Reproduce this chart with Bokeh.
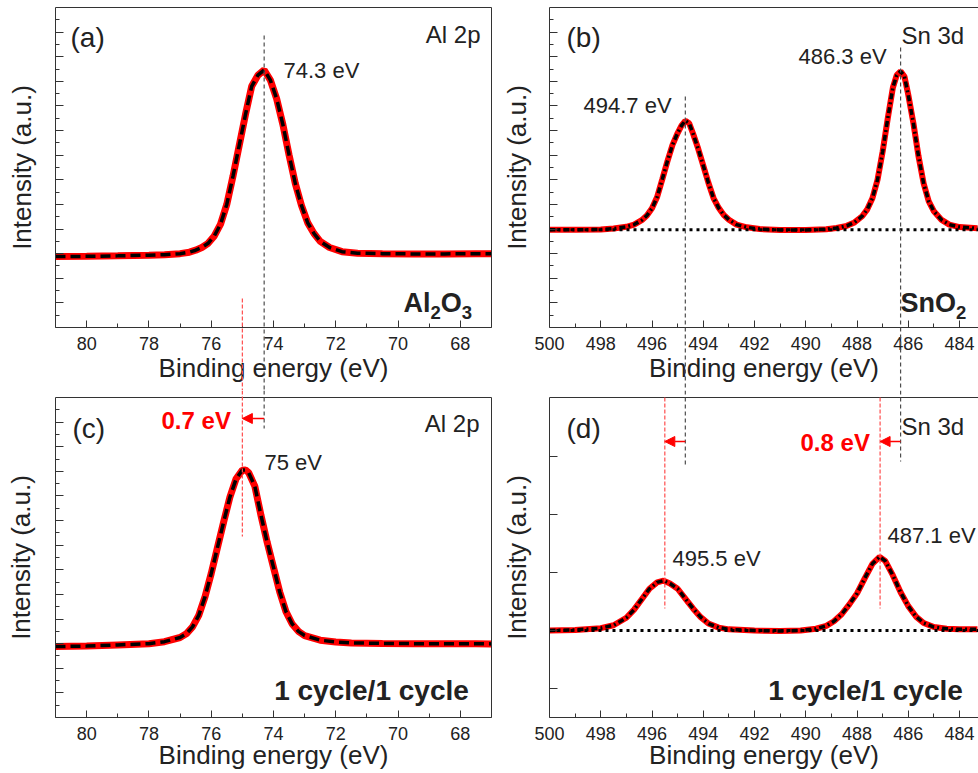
import math
from bokeh.plotting import figure
from bokeh.layouts import column, row
from bokeh.models import Range1d, FixedTicker, Label, Arrow, NormalHead, LinearAxis
from bokeh.embed import file_html
from bokeh.resources import INLINE

FONT = "Liberation Sans"
TXT = "#222222"

# ---------------- data ----------------
# (a) Al 2p, Al2O3
al2o3_E = [81, 80, 79, 78, 77.5, 77, 76.7, 76.5, 76.3, 76.1, 75.9, 75.7, 75.5, 75.3, 75.1,
           74.9, 74.7, 74.5, 74.3, 74.1, 73.9, 73.7, 73.5, 73.3, 73.1, 72.9, 72.7, 72.5,
           72.2, 71.8, 71.3, 70.5, 69.5, 68.5, 67.5, 67]
al2o3_I = [2.88, 2.89, 2.91, 2.94, 2.96, 3.0, 3.06, 3.14, 3.25, 3.42, 3.72, 4.2, 5.0, 6.15, 7.4,
           8.65, 9.8, 10.25, 10.46, 10.05, 9.3, 8.25, 7.01, 5.85, 4.95, 4.25, 3.82, 3.5,
           3.25, 3.08, 3.02, 3.0, 2.99, 2.99, 3.0, 3.0]

# (c) Al 2p, 1 cycle/1 cycle
cyc_al_E = [81, 80, 79, 78, 77.5, 77.0, 76.8, 76.6, 76.4, 76.2, 76.0, 75.8, 75.6, 75.4, 75.2,
            75.0, 74.9, 74.8, 74.6, 74.4, 74.2, 74.0, 73.8, 73.6, 73.4, 73.2, 73.0, 72.5,
            72.0, 71.5, 70.5, 69.5, 68.5, 67.5, 67]
cyc_al_I = [2.88, 2.9, 2.95, 3.0, 3.08, 3.25, 3.4, 3.68, 4.15, 4.9, 5.85, 6.9, 7.95, 8.95, 9.7,
            10.05, 10.06, 9.95, 9.4, 8.2, 7.1, 6.1, 5.1, 4.3, 3.8, 3.5, 3.33, 3.14,
            3.07, 3.03, 3.01, 3.0, 3.0, 3.0, 2.99]

# (b) Sn 3d, SnO2
sno2_E = [500, 499, 498, 497.5, 497, 496.7, 496.4, 496.2, 496.0, 495.8, 495.6, 495.4, 495.2,
          495.0, 494.85, 494.7, 494.55, 494.4, 494.2, 494.0, 493.8, 493.6, 493.4, 493.2,
          493.0, 492.7, 492.3, 491.8, 491, 490, 489.2, 488.8, 488.4, 488.1, 487.8, 487.6,
          487.4, 487.2, 487.0, 486.8, 486.6, 486.45, 486.3, 486.15, 486.0, 485.8, 485.6,
          485.4, 485.2, 485.0, 484.7, 484.4, 484.0, 483.3]
sno2_I = [3.97, 3.97, 3.98, 4.02, 4.09, 4.18, 4.36, 4.55, 4.84, 5.3, 6.02, 6.75, 7.42,
          7.9, 8.2, 8.4, 8.3, 7.88, 7.27, 6.58, 5.88, 5.26, 4.86, 4.57,
          4.38, 4.18, 4.07, 4.0, 3.96, 3.96, 3.99, 4.04, 4.13, 4.27, 4.52, 4.8,
          5.25, 6.0, 7.15, 8.5, 9.75, 10.25, 10.41, 10.2, 9.45, 8.3, 6.95,
          5.85, 5.12, 4.72, 4.37, 4.18, 4.08, 4.03]
sno2_base = 3.97

# (d) Sn 3d, 1 cycle/1 cycle
cyc_sn_E = [500, 499, 498, 497.5, 497.0, 496.7, 496.4, 496.1, 495.8, 495.55, 495.3, 495.0,
            494.7, 494.4, 494.1, 493.8, 493.4, 493.0, 492.0, 491.0, 490.2, 489.6, 489.2,
            488.9, 488.6, 488.3, 488.0, 487.7, 487.4, 487.12, 486.9, 486.6, 486.3, 486.0,
            485.7, 485.4, 485.0, 484.5, 484.0, 483.3]
cyc_sn_I = [2.0, 2.01, 2.04, 2.09, 2.22, 2.36, 2.54, 2.72, 2.83, 2.86, 2.81, 2.72,
            2.55, 2.38, 2.23, 2.12, 2.05, 2.02, 2.0, 1.99, 2.0, 2.03, 2.08,
            2.16, 2.28, 2.45, 2.64, 2.9, 3.15, 3.27, 3.2, 2.95, 2.66, 2.42,
            2.24, 2.13, 2.06, 2.03, 2.02, 2.02]
cyc_sn_base = 2.0

peak_al2o3 = 74.3
peak_cyc_al = 75.0
peaks_sno2 = [494.7, 486.3]
peaks_cyc_sn = [495.5, 487.1]

al_xticks = [80, 78, 76, 74, 72, 70, 68]
al_xminor = [81, 79, 77, 75, 73, 71, 69, 67]
sn_xticks = [500, 498, 496, 494, 492, 490, 488, 486, 484]
sn_xminor = [499, 497, 495, 493, 491, 489, 487, 485]
y_major = [1, 2, 3, 4, 5, 6, 7, 8, 9, 10, 11, 12]
y_minor = [0.5, 1.5, 2.5, 3.5, 4.5, 5.5, 6.5, 7.5, 8.5, 9.5, 10.5, 11.5, 12.5]
yd_major = [1, 2, 3, 4, 5]

X_TITLE = "Binding energy (eV)"
Y_TITLE = "Intensity (a.u.)"

# ---------------- geometry (page pixels) ----------------
# ox/oy: canvas origin on the page; left/top/fw/fh: axes box inside canvas
G = {
    "a": dict(ox=0, oy=0, w=500, h=390, left=55, top=7, fw=436, fh=320, xr=(81, 67), yr=(0, 13),
              xtitle_y=367, ytitle_x=21),
    "b": dict(ox=500, oy=0, w=478, h=390, left=49, top=7, fw=429, fh=320, xr=(500, 483.26), yr=(0, 13),
              xtitle_y=367, ytitle_x=516),
    "c": dict(ox=0, oy=390, w=500, h=383, left=55, top=7, fw=436, fh=320, xr=(81, 67), yr=(0, 13),
              xtitle_y=754, ytitle_x=20),
    "d": dict(ox=500, oy=390, w=478, h=383, left=49, top=7, fw=429, fh=320, xr=(500, 483.26),
              yr=(0.5, 0.5 + 320 / 58.0), xtitle_y=754, ytitle_x=516),
}


def to_data(g, X, Y):
    cx = X - g["ox"] - g["left"]
    cy = Y - g["oy"] - g["top"]
    x0, x1 = g["xr"]
    y0, y1 = g["yr"]
    return x0 + cx / g["fw"] * (x1 - x0), y1 - cy / g["fh"] * (y1 - y0)


def full_ranges(g):
    xa, yb = to_data(g, g["ox"], g["oy"] + g["h"])
    xb, ya = to_data(g, g["ox"] + g["w"], g["oy"])
    return (xa, xb), (yb, ya)


def style_axis(ax, tick_in, minor_in):
    ax.axis_line_color = "#333333"
    ax.axis_line_width = 1
    ax.major_tick_line_color = "#333333"
    ax.minor_tick_line_color = "#333333"
    ax.major_tick_in = tick_in
    ax.major_tick_out = 0
    ax.minor_tick_in = minor_in
    ax.minor_tick_out = 0


def text(p, g, X, Y, s, size, bold=False, color=TXT, align="left", angle=0.0):
    """Y is the vertical centre of the capitals (page pixels)."""
    x, y = to_data(g, X, Y)
    p.add_layout(Label(x=x, y=y, text=s, text_font=FONT, text_font_size=f"{size}px",
                       text_font_style="bold" if bold else "normal", text_color=color,
                       text_align=align, text_baseline="middle", angle=angle))


BOLD_W = {"A": 0.722, "l": 0.278, "O": 0.778, "S": 0.667, "n": 0.611, "2": 0.556, "3": 0.556}


def chem(p, g, X, Y, parts, size=27, sub_size=18.5):
    x = X
    for s, sub in parts:
        fs = sub_size if sub else size
        text(p, g, x, Y + (9 if sub else 0), s, fs, bold=True)
        x += sum(BOLD_W[c] for c in s) * fs


def make_fig(g, xt, xm, yt, ym, box_right=True):
    xr, yr = full_ranges(g)
    p = figure(width=g["w"], height=g["h"], x_range=Range1d(*xr), y_range=Range1d(*yr),
               output_backend="svg", toolbar_location=None,
               x_axis_location=None, y_axis_location=None, min_border=0,
               background_fill_color="white", border_fill_color="white")
    p.grid.visible = False
    p.outline_line_color = None
    bx = (min(g["xr"]), max(g["xr"]))
    by = (min(g["yr"]), max(g["yr"]))

    xa = LinearAxis(fixed_location=g["yr"][0], bounds=bx, ticker=FixedTicker(ticks=xt, minor_ticks=xm))
    style_axis(xa, 7, 4)
    xa.major_label_text_font = FONT
    xa.major_label_text_font_size = "18px"
    xa.major_label_text_color = TXT
    xa.major_label_standoff = 9
    p.add_layout(xa, "below")

    ya = LinearAxis(fixed_location=g["xr"][0], bounds=by, ticker=FixedTicker(ticks=yt, minor_ticks=ym))
    style_axis(ya, 8, 4)
    ya.major_label_text_color = None
    p.add_layout(ya, "left")

    top = LinearAxis(fixed_location=g["yr"][1], bounds=bx, ticker=FixedTicker(ticks=[]))
    style_axis(top, 0, 0)
    top.major_label_text_color = None
    p.add_layout(top, "above")
    if box_right:
        rt = LinearAxis(fixed_location=g["xr"][1], bounds=by, ticker=FixedTicker(ticks=[]))
        style_axis(rt, 0, 0)
        rt.major_label_text_color = None
        p.add_layout(rt, "right")

    # axis titles
    cx = g["ox"] + g["left"] + g["fw"] / 2
    text(p, g, cx, g["xtitle_y"], X_TITLE, 26, align="center")
    cy = g["oy"] + g["top"] + g["fh"] / 2
    text(p, g, g["ytitle_x"], cy, Y_TITLE, 26, align="center", angle=math.pi / 2)
    return p


def vguide(p, g, E, Y0, Y1, color, dash):
    _, ya = to_data(g, 0, Y0)
    _, yb = to_data(g, 0, Y1)
    p.add_layout(Arrow(end=None, x_start=E, y_start=ya, x_end=E, y_end=yb,
                       line_color=color, line_width=1.2, line_dash=dash))


def shift_arrow(p, g, E_from, E_to, Y):
    _, y = to_data(g, 0, Y)
    p.add_layout(Arrow(x_start=E_from, y_start=y, x_end=E_to, y_end=y,
                       line_color="#ff0000", line_width=1.5,
                       end=NormalHead(size=10, fill_color="#ff0000", line_color="#ff0000")))


def baseline(p, g, level):
    p.line(x=list(g["xr"]), y=[level, level], line_color="#000000", line_width=3, line_dash="3 4")


GRAY = "#4d4d4d"
RED_GUIDE = "#ff4d4d"

# ---------------- (a) ----------------
ga = G["a"]
pa = make_fig(ga, al_xticks, al_xminor, y_major, y_minor)
pa.line(al2o3_E, al2o3_I, line_color="#ff0000", line_width=7)
pa.line(al2o3_E, al2o3_I, line_color="#000000", line_width=3.5, line_dash="10 5")
vguide(pa, ga, peak_al2o3, 35, 390, GRAY, "4 3")
vguide(pa, ga, peak_cyc_al, 298, 390, RED_GUIDE, "4 2")
text(pa, ga, 70, 37, "(a)", 28)
text(pa, ga, 480, 33.5, "Al 2p", 24, align="right")
text(pa, ga, 283, 70, f"{peak_al2o3} eV", 22)
chem(pa, ga, 403, 302.5, [("Al", False), ("2", True), ("O", False), ("3", True)])

# ---------------- (b) ----------------
gb = G["b"]
pb = make_fig(gb, sn_xticks, sn_xminor, y_major, y_minor, box_right=False)
pb.line(sno2_E, sno2_I, line_color="#ff0000", line_width=6)
pb.line(sno2_E, sno2_I, line_color="#000000", line_width=3.5, line_dash="6 3 2 3")
baseline(pb, gb, sno2_base)
vguide(pb, gb, peaks_sno2[0], 96, 390, GRAY, "4 3")
vguide(pb, gb, peaks_sno2[1], 47, 390, GRAY, "4 3")
text(pb, gb, 566, 37, "(b)", 28)
text(pb, gb, 901, 34.5, "Sn 3d", 24)
text(pb, gb, 583, 105, f"{peaks_sno2[0]} eV", 22)
text(pb, gb, 798, 56, f"{peaks_sno2[1]} eV", 22)
chem(pb, gb, 900, 302.5, [("Sn", False), ("O", False), ("2", True)])

# ---------------- (c) ----------------
gc = G["c"]
pc = make_fig(gc, al_xticks, al_xminor, y_major, y_minor)
pc.line(cyc_al_E, cyc_al_I, line_color="#ff0000", line_width=7)
pc.line(cyc_al_E, cyc_al_I, line_color="#000000", line_width=3.5, line_dash="10 5")
vguide(pc, gc, peak_al2o3, 390, 428, GRAY, "4 3")
vguide(pc, gc, peak_cyc_al, 390, 536, RED_GUIDE, "4 2")
shift_arrow(pc, gc, peak_al2o3, peak_cyc_al, 418)
text(pc, gc, 72, 427.5, "(c)", 28)
text(pc, gc, 161, 419.5, f"{round(peak_cyc_al - peak_al2o3, 1)} eV", 24, bold=True, color="#ff0000")
text(pc, gc, 479, 423, "Al 2p", 24, align="right")
text(pc, gc, 264, 462, f"{peak_cyc_al:g} eV", 22)
text(pc, gc, 371, 690, "1 cycle/1 cycle", 28, bold=True, align="center")

# ---------------- (d) ----------------
gd = G["d"]
pd = make_fig(gd, sn_xticks, sn_xminor, yd_major, [], box_right=False)
pd.line(cyc_sn_E, cyc_sn_I, line_color="#ff0000", line_width=6)
pd.line(cyc_sn_E, cyc_sn_I, line_color="#000000", line_width=3.5, line_dash="6 3 2 3")
baseline(pd, gd, cyc_sn_base)
vguide(pd, gd, peaks_sno2[0], 390, 465, GRAY, "4 3")
vguide(pd, gd, peaks_sno2[1], 390, 461, GRAY, "4 3")
vguide(pd, gd, peaks_cyc_sn[0], 397, 608, RED_GUIDE, "4 2")
vguide(pd, gd, peaks_cyc_sn[1], 397, 608, RED_GUIDE, "4 2")
shift_arrow(pd, gd, peaks_sno2[0], peaks_cyc_sn[0], 441)
shift_arrow(pd, gd, peaks_sno2[1], peaks_cyc_sn[1], 441)
text(pd, gd, 566, 427.5, "(d)", 28)
text(pd, gd, 901, 425.5, "Sn 3d", 24)
text(pd, gd, 800, 441.5, f"{round(peaks_cyc_sn[1] - peaks_sno2[1], 1)} eV", 24, bold=True, color="#ff0000")
text(pd, gd, 672, 558, f"{peaks_cyc_sn[0]} eV", 22)
text(pd, gd, 887, 535, f"{peaks_cyc_sn[1]} eV", 22)
text(pd, gd, 865, 690, "1 cycle/1 cycle", 28, bold=True, align="center")

layout = column(row(pa, pb), row(pc, pd))
open("out.html", "w").write(file_html(layout, INLINE))
